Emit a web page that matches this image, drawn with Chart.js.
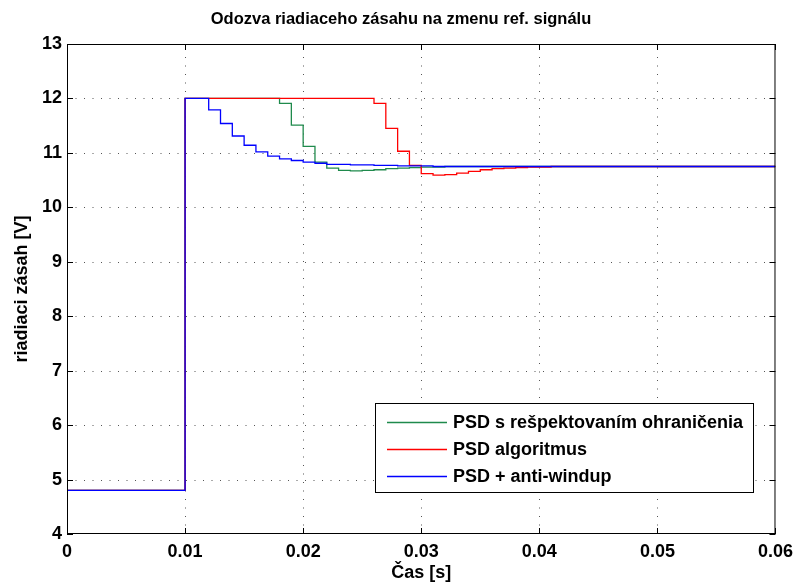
<!DOCTYPE html>
<html>
<head>
<meta charset="utf-8">
<title>Odozva riadiaceho zásahu</title>
<script src="https://cdn.jsdelivr.net/npm/chart.js@4/dist/chart.umd.min.js"></script>
<style>
  html, body { margin: 0; padding: 0; background: #fff; }
  canvas { display: block; }
</style>
</head>
<body>
<canvas id="chart" width="800" height="584"></canvas>
<script>
const FONT = '"Liberation Sans", Arial, Helvetica, sans-serif';
const TITLE = 'Odozva riadiaceho zásahu na zmenu ref. signálu';

// sampled control signal (zero-order hold): each value holds until the next time
const greenTimes  = [0, 0.010, 0.018, 0.019, 0.020, 0.021, 0.022, 0.023, 0.024, 0.025, 0.026, 0.027, 0.028, 0.029, 0.030, 0.032, 0.060];
const greenValues = [4.8, 12, 11.91, 11.51, 11.12, 10.83, 10.72, 10.68, 10.67, 10.68, 10.69, 10.71, 10.72, 10.73, 10.74, 10.75, 10.75];

const redTimes  = [0, 0.010, 0.026, 0.027, 0.028, 0.029, 0.030, 0.031, 0.032, 0.033, 0.034, 0.035, 0.036, 0.037, 0.038, 0.039, 0.041, 0.060];
const redValues = [4.8, 12, 11.91, 11.45, 11.03, 10.77, 10.62, 10.59, 10.60, 10.63, 10.66, 10.69, 10.71, 10.72, 10.73, 10.74, 10.75, 10.75];

const blueTimes  = [0, 0.010, 0.012, 0.013, 0.014, 0.015, 0.016, 0.017, 0.018, 0.019, 0.020, 0.021, 0.022, 0.024, 0.026, 0.028, 0.031, 0.060];
const blueValues = [4.8, 12, 11.79, 11.54, 11.31, 11.14, 11.02, 10.94, 10.89, 10.86, 10.83, 10.81, 10.79, 10.78, 10.77, 10.76, 10.75, 10.75];

const seriesLabels = ['PSD s rešpektovaním ohraničenia', 'PSD algoritmus', 'PSD + anti-windup'];
const seriesColors = ['#1f8a4c', '#ff0000', '#0000ff'];

const xTicks = [0, 0.01, 0.02, 0.03, 0.04, 0.05, 0.06];
const yTicks = [4, 5, 6, 7, 8, 9, 10, 11, 12, 13];

function toPoints(times, values) {
  return times.map((t, i) => ({ x: t, y: values[i] }));
}

// title, dotted grid, boxed axes with inward ticks, and legend inside the plot
const matlabAxes = {
  id: 'matlabAxes',
  beforeDatasetsDraw(chart) {
    const { ctx, chartArea: a, scales: { x, y } } = chart;
    ctx.save();
    ctx.fillStyle = '#000';
    ctx.font = 'bold 16.5px ' + FONT;
    ctx.textAlign = 'center';
    ctx.textBaseline = 'middle';
    ctx.fillText(TITLE, 401, 19);

    ctx.strokeStyle = '#555';
    ctx.lineWidth = 1;
    ctx.setLineDash([1, 7.5]);
    ctx.beginPath();
    xTicks.slice(1, -1).forEach(v => {
      const px = Math.round(x.getPixelForValue(v)) + 0.5;
      ctx.moveTo(px, a.bottom);
      ctx.lineTo(px, a.top);
    });
    yTicks.slice(1, -1).forEach(v => {
      const py = Math.round(y.getPixelForValue(v)) + 0.5;
      ctx.moveTo(a.left, py);
      ctx.lineTo(a.right, py);
    });
    ctx.stroke();
    ctx.restore();
  },
  afterDatasetsDraw(chart) {
    const { ctx, chartArea: a, scales: { x, y } } = chart;
    const tick = 6;
    ctx.save();
    ctx.strokeStyle = '#000';
    ctx.lineWidth = 1;
    ctx.strokeRect(a.left + 0.5, a.top + 0.5, a.right - a.left - 1, a.bottom - a.top - 1);

    ctx.beginPath();
    xTicks.forEach(v => {
      const px = Math.round(x.getPixelForValue(v)) + 0.5;
      ctx.moveTo(px, a.bottom);
      ctx.lineTo(px, a.bottom - tick);
      ctx.moveTo(px, a.top);
      ctx.lineTo(px, a.top + tick);
    });
    yTicks.forEach(v => {
      const py = Math.round(y.getPixelForValue(v)) + 0.5;
      ctx.moveTo(a.left, py);
      ctx.lineTo(a.left + tick, py);
      ctx.moveTo(a.right, py);
      ctx.lineTo(a.right - tick, py);
    });
    ctx.stroke();

    // legend box
    const lx = 375.5, ly = 403.5, lw = 378, lh = 89;
    ctx.fillStyle = '#fff';
    ctx.fillRect(lx, ly, lw, lh);
    ctx.strokeRect(lx, ly, lw, lh);
    ctx.font = 'bold 18px ' + FONT;
    ctx.textBaseline = 'middle';
    ctx.textAlign = 'left';
    chart.data.datasets.forEach((ds, i) => {
      const rowY = 422.5 + i * 27;
      ctx.strokeStyle = ds.borderColor;
      ctx.lineWidth = 1.3;
      ctx.beginPath();
      ctx.moveTo(387, rowY);
      ctx.lineTo(447, rowY);
      ctx.stroke();
      ctx.fillStyle = '#000';
      ctx.fillText(ds.label, 453, rowY + 1);
    });
    ctx.restore();
  }
};

const datasets = [
  { label: seriesLabels[0], data: toPoints(greenTimes, greenValues), borderColor: seriesColors[0], order: 3 },
  { label: seriesLabels[1], data: toPoints(redTimes, redValues), borderColor: seriesColors[1], order: 2 },
  { label: seriesLabels[2], data: toPoints(blueTimes, blueValues), borderColor: seriesColors[2], order: 1 }
].map(ds => Object.assign(ds, {
  stepped: 'before',
  borderWidth: 1.3,
  pointRadius: 0,
  fill: false,
  tension: 0
}));

new Chart(document.getElementById('chart').getContext('2d'), {
  type: 'line',
  data: { datasets },
  options: {
    responsive: false,
    animation: false,
    devicePixelRatio: 1,
    events: [],
    layout: { padding: { top: 44, right: 22, bottom: 0, left: 0 } },
    scales: {
      x: {
        type: 'linear',
        min: 0,
        max: 0.06,
        afterBuildTicks: scale => { scale.ticks = xTicks.map(v => ({ value: v })); },
        afterFit: scale => { scale.height = 50; },
        grid: { display: false, drawTicks: false },
        border: { display: false },
        ticks: {
          padding: 7,
          color: '#000',
          maxRotation: 0,
          font: { family: FONT, size: 18, weight: 'bold' },
          callback: v => (v === 0 ? '0' : v.toFixed(2))
        },
        title: {
          display: true,
          text: 'Čas [s]',
          color: '#000',
          padding: { top: 0, bottom: 0 },
          font: { family: FONT, size: 18, weight: 'bold' }
        }
      },
      y: {
        min: 4,
        max: 13,
        afterBuildTicks: scale => { scale.ticks = yTicks.map(v => ({ value: v })); },
        afterFit: scale => { scale.width = 67; },
        grid: { display: false, drawTicks: false },
        border: { display: false },
        ticks: {
          padding: 5,
          color: '#000',
          font: { family: FONT, size: 18, weight: 'bold' }
        },
        title: {
          display: true,
          text: 'riadiaci zásah [V]',
          color: '#000',
          padding: { top: 11, bottom: 0 },
          font: { family: FONT, size: 18, weight: 'bold' }
        }
      }
    },
    plugins: {
      legend: { display: false },
      tooltip: { enabled: false },
      title: { display: false }
    }
  },
  plugins: [matlabAxes]
});
</script>
</body>
</html>
